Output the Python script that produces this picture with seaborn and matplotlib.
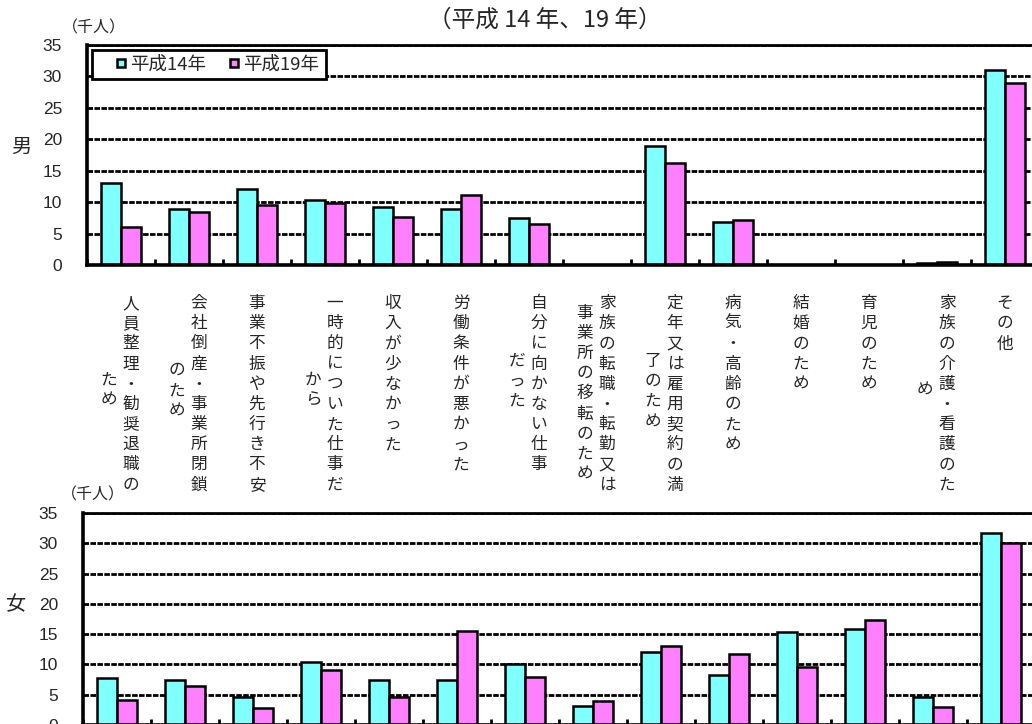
import numpy as np
import pandas as pd
import matplotlib
matplotlib.use("Agg")
import matplotlib.pyplot as plt
import matplotlib.transforms as mtransforms
from matplotlib.lines import Line2D
from matplotlib.patches import Rectangle
import seaborn as sns

# ---------------- data ----------------
categories = [
    "人員整理・勧奨退職のため", "会社倒産・事業所閉鎖のため", "事業不振や先行き不安",
    "一時的についた仕事だから", "収入が少なかった", "労働条件が悪かった",
    "自分に向かない仕事だった", "家族の転職・転勤又は事業所の移転のため",
    "定年又は雇用契約の満了のため", "病気・高齢のため", "結婚のため",
    "育児のため", "家族の介護・看護のため", "その他",
]
# vertical label columns (right-to-left), '|' = column break
label_columns = [
    "人員整理・勧奨退職の|ため", "会社倒産・事業所閉鎖|のため", "事業不振や先行き不安",
    "一時的についた仕事だ|から", "収入が少なかった", "労働条件が悪かった",
    "自分に向かない仕事|だった", "家族の転職・転勤又は|事業所の移転のため",
    "定年又は雇用契約の満|了のため", "病気・高齢のため", "結婚のため",
    "育児のため", "家族の介護・看護のた|め", "その他",
]
years = ["平成14年", "平成19年"]
male_h14 = [13.0, 8.9, 12.1, 10.3, 9.2, 8.9, 7.4, 0.0, 19.0, 6.9, 0.0, 0.0, 0.3, 31.0]
male_h19 = [6.0, 8.5, 9.5, 9.8, 7.7, 11.1, 6.6, 0.0, 16.3, 7.2, 0.0, 0.0, 0.5, 28.9]
female_h14 = [7.7, 7.4, 4.6, 10.4, 7.4, 7.4, 10.0, 3.2, 12.0, 8.2, 15.3, 15.9, 4.6, 31.7]
female_h19 = [4.2, 6.4, 2.8, 9.1, 4.6, 15.6, 7.9, 3.9, 13.1, 11.8, 9.6, 17.3, 3.0, 30.1]
yticks = [0, 5, 10, 15, 20, 25, 30, 35]
title = "（平成 14 年、19 年）"
unit_label = "（千人）"
panel_labels = ["男", "女"]

colors = ["#80FFFF", "#FF80FF"]

# ---------------- style ----------------
sns.set_style("white")
plt.rcParams["font.family"] = ["Noto Sans CJK JP", "DejaVu Sans"]

W, H = 1032, 724
fig = plt.figure(figsize=(W / 100, H / 100), dpi=100)

cat_px = 68.0
ax_top = fig.add_axes([87 / W, (H - 265) / H, 14 * cat_px / W, 220 / H])
ax_bot = fig.add_axes([83 / W, (H - 725) / H, 14 * cat_px / W, 212 / H])


def draw_panel(ax, v14, v19):
    df = pd.DataFrame({
        "cat": categories * 2,
        "year": [years[0]] * len(categories) + [years[1]] * len(categories),
        "value": v14 + v19,
    })
    sns.barplot(data=df, x="cat", y="value", hue="year", order=categories,
                hue_order=years, palette=colors, saturation=1, width=0.58,
                edgecolor="black", linewidth=1.8, ax=ax, legend=False, errorbar=None)
    ax.set_xlim(-0.5, len(categories) - 0.5)
    ax.set_ylim(0, 35)
    ax.set_yticks(yticks)
    ax.set_yticklabels([str(t) for t in yticks], family=["Liberation Sans"], fontsize=12.5)
    ax.tick_params(axis="y", length=0, pad=18)
    ax.set_xticks(range(len(categories)))
    ax.set_xticklabels([])
    ax.tick_params(axis="x", which="major", length=0)
    ax.set_xticks(np.arange(-0.5, len(categories), 1), minor=True)
    ax.tick_params(axis="x", which="minor", direction="in", length=4, width=2,
                   color="black", bottom=True, top=False)
    ax.set_xlabel("")
    ax.set_ylabel("")
    ax.yaxis.grid(True, color="black", linewidth=2.0, linestyle=(0, (2.0, 0.5)))
    ax.xaxis.grid(False)
    ax.set_axisbelow(True)
    for side in ["left", "bottom"]:
        ax.spines[side].set_linewidth(2.6)
        ax.spines[side].set_color("black")
    ax.spines["top"].set_linewidth(2.0)
    ax.spines["top"].set_color("black")
    ax.spines["right"].set_visible(False)


draw_panel(ax_top, male_h14, male_h19)
draw_panel(ax_bot, female_h14, female_h19)

# legend: white box with black border, entries inside
fig.patches.append(Rectangle((92 / W, 1 - 79 / H), 234 / W, 29 / H,
                             transform=fig.transFigure, facecolor="white",
                             edgecolor="black", linewidth=2.0, zorder=3))
handles = [Line2D([], [], linestyle="none", marker="s", markersize=5.5,
                  markerfacecolor=c, markeredgecolor="black", markeredgewidth=1.8)
           for c in colors]
fig.legend(handles, years, loc="center left", ncol=2,
           bbox_to_anchor=(116 / W, 1 - 64.5 / H), bbox_transform=fig.transFigure,
           borderaxespad=0, borderpad=0, frameon=False, fontsize=13.3,
           handlelength=0.5, handletextpad=0.25, columnspacing=1.25)

# title and labels
fig.text(545 / W, 1 - 20 / H, title, ha="center", va="center", fontsize=17)
fig.text(94 / W, 1 - 28 / H, unit_label, ha="center", va="center", fontsize=11.5)
fig.text(93 / W, 1 - 495 / H, unit_label, ha="center", va="center", fontsize=11.5)
fig.text(21 / W, 1 - 147 / H, panel_labels[0], ha="center", va="center", fontsize=14.5)
fig.text(16 / W, 1 - 605 / H, panel_labels[1], ha="center", va="center", fontsize=14.5)

# vertical category labels (columns read right to left)
pitch_px = 19.2
top_px = 295
col_gap_pts = 22 * 0.72
base_trans = mtransforms.blended_transform_factory(ax_top.transData, fig.transFigure)
for i, lab in enumerate(label_columns):
    cols = lab.split("|")
    n = len(cols)
    maxlen = max(len(c) for c in cols)
    for j, col in enumerate(cols):
        dx = ((n - 1) / 2 - j) * col_gap_pts
        if n == 2:
            dx -= 1.0 * 0.72
        y_off = (maxlen - len(col)) / 2 * pitch_px
        tr = mtransforms.offset_copy(base_trans, fig=fig, x=dx, y=0, units="points")
        fig.text(i, 1 - (top_px + y_off) / H, "\n".join(col), transform=tr,
                 ha="center", va="top", fontsize=12, linespacing=1.245)

fig.savefig("out.png", dpi=100)
